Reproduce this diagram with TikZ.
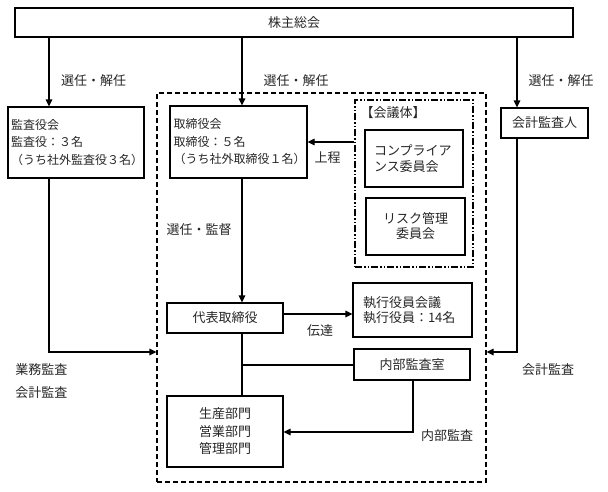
\documentclass[tikz,border=0pt]{standalone}
\usepackage{fontspec}
\newfontfamily\jp{Noto Sans CJK JP}
\usetikzlibrary{arrows.meta}
\begin{document}
\begin{tikzpicture}[x=1pt,y=-1pt,
  every node/.style={font=\jp\fontsize{13}{17}\selectfont, inner sep=0pt, text=black!85},
  box/.style={draw, line width=1.1pt},
  arr/.style={line width=1.1pt, -{Triangle[length=7pt,width=6.5pt]}},
  ln/.style={line width=1.1pt},
  dashbox/.style={draw, line width=1.1pt, dash pattern=on 5pt off 3pt},
  dotbox/.style={draw, line width=1.1pt, dash pattern=on 7pt off 2pt on 1.5pt off 2pt on 1.5pt off 2pt}]
\useasboundingbox (0,0) rectangle (608,491);
% outer frames
\node[dashbox, minimum width=329pt, minimum height=389pt] (outer) at (321.5,287.5) {};
\node[dotbox, minimum width=118pt, minimum height=167pt] (kaigi) at (414,183.5) {};
% boxes
\node[box, minimum width=558pt, minimum height=29pt] (sh) at (294,22.5) {株主総会};
\node[box, minimum width=136pt, minimum height=71pt, text width=130pt, align=left,
  font=\jp\fontsize{12}{17.5}\selectfont] (kansa) at (76,142.5)
  {監査役会\\監査役：３名\\（うち社外監査役３名）};
\node[box, minimum width=137pt, minimum height=72pt, text width=130pt, align=left,
  font=\jp\fontsize{12}{17.5}\selectfont] (tori) at (238.5,142)
  {取締役会\\取締役：５名\\（うち社外取締役１名）};
\node[box, minimum width=87pt, minimum height=30pt] (kaikei) at (544.5,123) {会計監査人};
\node (kaigilbl) at (393,113) {【会議体】};
\node[box, minimum width=98pt, minimum height=57pt, text width=80pt, align=left,
  font=\jp\fontsize{13}{16}\selectfont] (comp) at (414,158.5) {コンプライア\\ンス委員会};
\node[box, minimum width=99pt, minimum height=57pt, align=center,
  font=\jp\fontsize{13}{15}\selectfont] (risk) at (415.5,226.5) {リスク管理\\委員会};
\node[box, minimum width=116pt, minimum height=30pt] (daihyo) at (225,318) {代表取締役};
\node[box, minimum width=119pt, minimum height=54pt, text width=99pt, align=left,
  font=\jp\fontsize{13}{15}\selectfont] (shikko) at (412.5,310) {執行役員会議\\執行役員：14名};
\node[box, minimum width=116pt, minimum height=31pt] (naibu) at (412,364.5) {内部監査室};
\node[box, minimum width=116pt, minimum height=71pt, align=center,
  font=\jp\fontsize{13}{17.5}\selectfont] (seisan) at (225,431.5) {生産部門\\営業部門\\管理部門};
% labels
\node (l1) at (93.5,81) {選任・解任};
\node (l2) at (296,81) {選任・解任};
\node (l3) at (561,81) {選任・解任};
\node (l4) at (327.5,158) {上程};
\node (l5) at (199,230) {選任・監督};
\node (l6) at (320,331) {伝達};
\node (l7) at (41.5,370) {業務監査};
\node (l8) at (41.5,393) {会計監査};
\node (l9) at (548,370) {会計監査};
\node (l10) at (447,436) {内部監査};
% helper coordinates
\coordinate (xA) at (49,0);
\coordinate (xB) at (242,0);
\coordinate (xC) at (517,0);
\coordinate (xN) at (413,0);
\coordinate (yM) at (0,352);
\coordinate (yJ) at (0,142);
\coordinate (yD) at (0,314);
\coordinate (yH) at (0,365);
\coordinate (yS) at (0,432);
% connectors
\draw[arr] (sh.south -| xA) -- (kansa.north -| xA);
\draw[arr] (sh.south -| xB) -- (tori.north -| xB);
\draw[arr] (sh.south -| xC) -- (kaikei.north -| xC);
\draw[arr] (kansa.south -| xA) |- (outer.west |- yM);
\draw[arr] (kaikei.south -| xC) |- (outer.east |- yM);
\draw[arr] (kaigi.west |- yJ) -- (tori.east |- yJ);
\draw[arr] (tori.south -| xB) -- (daihyo.north -| xB);
\draw[arr] (daihyo.east |- yD) -- (shikko.west |- yD);
\draw[ln] (daihyo.south -| xB) -- (seisan.north -| xB);
\draw[ln] (xB |- yH) -- (naibu.west |- yH);
\draw[arr] (naibu.south -| xN) |- (seisan.east |- yS);
\end{tikzpicture}
\end{document}
